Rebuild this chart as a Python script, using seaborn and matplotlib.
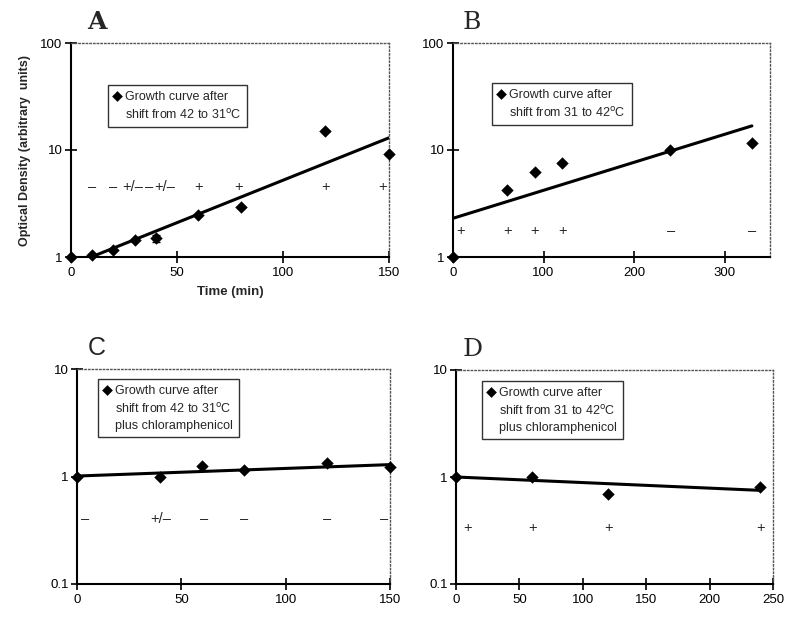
import numpy as np
import pandas as pd
import seaborn as sns
import matplotlib.pyplot as plt
from matplotlib.ticker import FixedLocator, FuncFormatter, NullLocator

sns.set_style("ticks")
plt.rcParams['font.family'] = ['Liberation Sans', 'DejaVu Sans']

# panel A: shift 42 -> 31 C
a_time = [0, 10, 20, 30, 40, 60, 80, 120, 150]
a_od = [1.0, 1.04, 1.16, 1.44, 1.5, 2.45, 2.95, 15.2, 9.1]
a_err = [0, 0, 0, 0, 0.12, 0, 0, 0, 0]
a_fit_t = [0, 150]
a_fit_od = [0.84, 13.0]
a_sign_t = [10, 20, 29, 37, 44, 60, 79, 120, 147]
a_sign = ['–', '–', '+/–', '–', '+/–', '+', '+', '+', '+']

# panel B: shift 31 -> 42 C
b_time = [0, 60, 90, 120, 240, 330]
b_od = [1.0, 4.2, 6.2, 7.5, 9.9, 11.6]
b_fit_t = [0, 330]
b_fit_od = [2.3, 16.8]
b_sign_t = [8, 60, 90, 121, 241, 330]
b_sign = ['+', '+', '+', '+', '–', '–']

# panel C: 42 -> 31 C plus chloramphenicol
c_time = [0, 40, 60, 80, 120, 150]
c_od = [1.0, 0.99, 1.24, 1.15, 1.33, 1.22]
c_fit_t = [0, 150]
c_fit_od = [1.01, 1.29]
c_sign_t = [4, 40, 61, 80, 120, 147]
c_sign = ['–', '+/–', '–', '–', '–', '–']

# panel D: 31 -> 42 C plus chloramphenicol
d_time = [0, 60, 120, 240]
d_od = [1.0, 0.99, 0.70, 0.80]
d_fit_t = [0, 240]
d_fit_od = [1.0, 0.75]
d_sign_t = [9, 60, 120, 240]
d_sign = ['+', '+', '+', '+']

fig = plt.figure(figsize=(8, 6.25), dpi=100)

panels = [
    dict(rect=[0.08875, 0.5888, 0.3975, 0.3424], t=a_time, od=a_od, err=a_err,
         ft=a_fit_t, fo=a_fit_od, st=a_sign_t, s=a_sign, sy=4.55,
         xlim=(0, 150), xt=[0, 50, 100, 150], ylim=(1, 100), yt=[1, 10, 100],
         label='Growth curve after\nshift from 42 to 31$^{\\rm o}$C',
         leg=(0.116, 0.804), letter='A', lx=0.05, lfont='DejaVu Serif', lw='bold'),
    dict(rect=[0.56625, 0.5888, 0.39625, 0.3424], t=b_time, od=b_od, err=None,
         ft=b_fit_t, fo=b_fit_od, st=b_sign_t, s=b_sign, sy=1.76,
         xlim=(0, 350), xt=[0, 100, 200, 300], ylim=(1, 100), yt=[1, 10, 100],
         label='Growth curve after\nshift from 31 to 42$^{\\rm o}$C',
         leg=(0.123, 0.813), letter='B', lx=0.03, lfont='DejaVu Serif', lw='normal'),
    dict(rect=[0.09625, 0.0656, 0.39125, 0.344], t=c_time, od=c_od, err=None,
         ft=c_fit_t, fo=c_fit_od, st=c_sign_t, s=c_sign, sy=0.40,
         xlim=(0, 150), xt=[0, 50, 100, 150], ylim=(0.1, 10), yt=[0.1, 1, 10],
         label='Growth curve after\nshift from 42 to 31$^{\\rm o}$C\nplus chloramphenicol',
         leg=(0.067, 0.953), letter='C', lx=0.035, lfont='Liberation Sans', lw='normal'),
    dict(rect=[0.57, 0.0656, 0.39625, 0.3424], t=d_time, od=d_od, err=None,
         ft=d_fit_t, fo=d_fit_od, st=d_sign_t, s=d_sign, sy=0.336,
         xlim=(0, 250), xt=[0, 50, 100, 150, 200, 250], ylim=(0.1, 10), yt=[0.1, 1, 10],
         label='Growth curve after\nshift from 31 to 42$^{\\rm o}$C\nplus chloramphenicol',
         leg=(0.082, 0.949), letter='D', lx=0.022, lfont='DejaVu Serif', lw='normal'),
]

for p in panels:
    ax = fig.add_axes(p['rect'])
    ax.set_yscale('log')
    pts = pd.DataFrame({'t': p['t'], 'od': p['od']})
    fit = pd.DataFrame({'t': p['ft'], 'od': p['fo']})
    sns.lineplot(data=fit, x='t', y='od', ax=ax, color='black', linewidth=2.2)
    if p['err'] is not None:
        ax.errorbar(p['t'], p['od'], yerr=p['err'], fmt='none', ecolor='black',
                    elinewidth=1, capsize=3, clip_on=False)
    sns.scatterplot(data=pts, x='t', y='od', ax=ax, marker='D', color='black',
                    s=40, edgecolor='black', linewidth=0, clip_on=False, zorder=5,
                    label=p['label'])
    for x, s in zip(p['st'], p['s']):
        ax.text(x, p['sy'], s, ha='center', va='center', fontsize=10.5)

    ax.set_xlim(*p['xlim'])
    ax.set_ylim(*p['ylim'])
    ax.xaxis.set_major_locator(FixedLocator(p['xt']))
    ax.yaxis.set_major_locator(FixedLocator(p['yt']))
    ax.yaxis.set_minor_locator(NullLocator())
    ax.xaxis.set_minor_locator(NullLocator())
    ax.yaxis.set_major_formatter(FuncFormatter(lambda v, pos: '%g' % v))
    ax.tick_params(direction='inout', length=8, width=1.2, labelsize=9.5,
                   colors='black', pad=2)
    ax.tick_params(axis='x', pad=3)
    ax.set_xlabel('')
    ax.set_ylabel('')
    for side in ['left', 'bottom']:
        ax.spines[side].set_color('black')
        ax.spines[side].set_linewidth(1.5)
    for side in ['top', 'right']:
        ax.spines[side].set_visible(True)
        ax.spines[side].set_color('#555555')
        ax.spines[side].set_linestyle(':')
        ax.spines[side].set_linewidth(1.0)

    leg = ax.legend(loc='upper left', bbox_to_anchor=p['leg'], borderaxespad=0,
                    frameon=True, fancybox=False, edgecolor='black', fontsize=9,
                    handlelength=0.6, handletextpad=0.35, borderpad=0.45,
                    labelspacing=0.3)
    leg.get_frame().set_linewidth(1.0)
    for h in leg.legend_handles:
        h.set_sizes([30])
    for t in leg.get_texts():
        t.set_linespacing(1.45)
    # put the diamond next to the first line of the label, as in the original
    for col in leg._legend_handle_box.get_children():
        for row in col.get_children():
            row.align = 'top'

    ax.text(p['lx'], 1.04, p['letter'], transform=ax.transAxes, fontsize=18,
            family=p['lfont'], fontweight=p['lw'], ha='left', va='bottom')

    if p['letter'] == 'A':
        ax.set_ylabel('Optical Density (arbitrary  units)', fontsize=9,
                      fontweight='bold', labelpad=7)
        ax.set_xlabel('Time (min)', fontsize=9.5, fontweight='bold', labelpad=5)

fig.savefig('out.png', dpi=100)
